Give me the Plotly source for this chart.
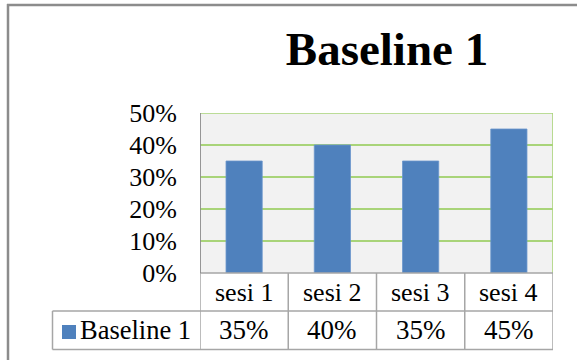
import plotly.graph_objects as go

W, H = 577, 360

title_text = "Baseline 1"
series_name = "Baseline 1"
categories = ["sesi 1", "sesi 2", "sesi 3", "sesi 4"]
values = [0.35, 0.40, 0.35, 0.45]
y_ticks = [0, 0.1, 0.2, 0.3, 0.4, 0.5]

FONT = "Liberation Serif, Times New Roman, serif"
BAR = "#4F81BD"
GRID = "#A9D479"
TBL = "#A6A6A6"
FRAME = "#8C8C8C"
FS = 26


def px(x):
    return x / W


def py(y):
    return 1 - y / H


fig = go.Figure()
fig.add_trace(go.Bar(
    x=categories, y=values, name=series_name,
    marker=dict(color=BAR, line=dict(color="#6A96CB", width=0.8)),
    width=0.41, showlegend=False,
))

n = len(categories)
shapes = []
# outer chart frame (left + top)
shapes.append(dict(type="line", xref="paper", yref="paper", x0=px(8), x1=px(8), y0=py(4), y1=py(361),
                   line=dict(color=FRAME, width=2.5)))
shapes.append(dict(type="line", xref="paper", yref="paper", x0=px(7), x1=px(578), y0=py(5), y1=py(5),
                   line=dict(color=FRAME, width=2.5)))
# plot area top and right borders (green)
shapes.append(dict(type="line", xref="x", yref="y", x0=-0.5, x1=n - 0.5, y0=0.5, y1=0.5,
                   line=dict(color=GRID, width=1.6)))
shapes.append(dict(type="line", xref="x", yref="y", x0=n - 0.5, x1=n - 0.5, y0=0, y1=0.5,
                   line=dict(color=GRID, width=1.6)))
# data table lines
row_top, row_mid, row_bot = 273, 311, 349.5
shapes.append(dict(type="line", xref="x", yref="paper", x0=-0.5, x1=n - 0.5, y0=py(row_top), y1=py(row_top),
                   line=dict(color=TBL, width=1.5)))
for yy in (row_mid, row_bot):
    shapes.append(dict(type="line", xref="paper", yref="paper", x0=px(52.5), x1=px(553), y0=py(yy), y1=py(yy),
                       line=dict(color=TBL, width=1.5)))
shapes.append(dict(type="line", xref="paper", yref="paper", x0=px(52.5), x1=px(52.5), y0=py(row_mid), y1=py(row_bot),
                   line=dict(color=TBL, width=1.5)))
for i in range(n + 1):
    shapes.append(dict(type="line", xref="x", yref="paper", x0=i - 0.5, x1=i - 0.5,
                       y0=py(row_top), y1=py(row_bot), line=dict(color=TBL, width=1.5)))
# y axis line
shapes.append(dict(type="line", xref="x", yref="y", x0=-0.5, x1=-0.5, y0=0, y1=0.5,
                   line=dict(color="#8C8C8C", width=1.8)))
# legend key in data table
shapes.append(dict(type="rect", xref="paper", yref="paper", x0=px(62), x1=px(76), y0=py(339), y1=py(325),
                   fillcolor=BAR, line=dict(width=0)))

annotations = []
for c, v in zip(categories, values):
    annotations.append(dict(x=c, xref="x", y=py(292), yref="paper", text=c, showarrow=False,
                            font=dict(family=FONT, size=FS, color="#000000"), xanchor="center", yanchor="middle"))
    annotations.append(dict(x=c, xref="x", y=py(330), yref="paper", text=f"{v:.0%}", showarrow=False,
                            font=dict(family=FONT, size=FS + 1, color="#000000"), xanchor="center", yanchor="middle"))
annotations.append(dict(x=px(78), xref="paper", y=py(330), yref="paper", text=series_name, showarrow=False,
                        font=dict(family=FONT, size=FS + 0.5, color="#000000"), xanchor="left", yanchor="middle"))

fig.update_layout(
    width=W, height=H, autosize=False,
    margin=dict(l=0, r=0, t=0, b=0, pad=0, autoexpand=False),
    paper_bgcolor="#FFFFFF",
    plot_bgcolor="#F2F2F2",
    showlegend=False,
    title=dict(text=title_text, x=px(387), xanchor="center", y=py(49), yanchor="middle",
               font=dict(family=FONT, size=47, color="#000000", weight="bold")),
    xaxis=dict(domain=[px(200), px(553)], range=[-0.5, n - 0.5], showticklabels=False,
               showgrid=False, zeroline=False, showline=False, ticks="", fixedrange=True,
               automargin=False),
    yaxis=dict(domain=[py(273), py(113)], range=[0, 0.5], tickvals=y_ticks, tickformat=".0%",
               showgrid=True, gridcolor=GRID, gridwidth=1.6, zeroline=False, showline=False,
               ticks="", ticklabelstandoff=22, automargin=False,
               tickfont=dict(family=FONT, size=FS, color="#000000"), fixedrange=True),
    shapes=shapes,
    annotations=annotations,
)

fig.write_html("out.html")
